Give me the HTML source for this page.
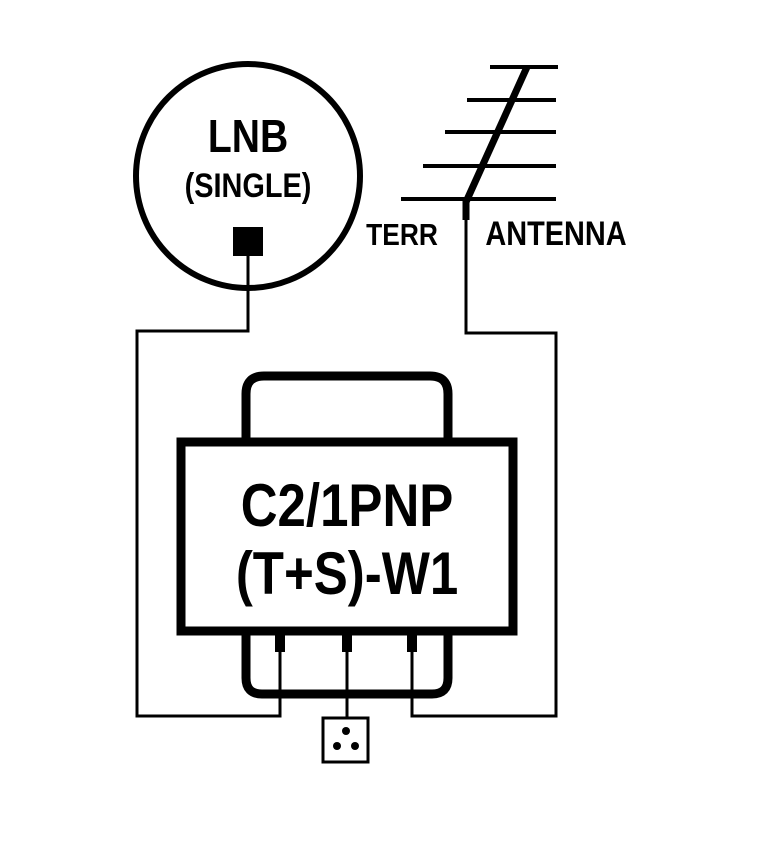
<!DOCTYPE html>
<html><head><style>html,body{margin:0;padding:0;background:#fff;}svg{display:block}</style></head>
<body>
<svg width="770" height="852" viewBox="0 0 770 852" xmlns="http://www.w3.org/2000/svg">
<g fill="none" stroke="#000" stroke-linejoin="miter">
<circle cx="248" cy="176" r="112" stroke-width="6"/>
<g stroke-width="4">
<line x1="490" y1="67" x2="558" y2="67"/>
<line x1="467" y1="100" x2="556" y2="100"/>
<line x1="445" y1="132" x2="556" y2="132"/>
<line x1="423" y1="166" x2="556" y2="166"/>
<line x1="401" y1="199" x2="556" y2="199"/>
</g>
<line x1="527" y1="67" x2="466" y2="202" stroke-width="7"/>
<line x1="466" y1="200" x2="466" y2="220" stroke-width="7"/>
<polyline points="466,220 466,333 556,333 556,716 412,716 412,640" stroke-width="3"/>
<polyline points="248,250 248,331 137,331 137,716 280,716 280,640" stroke-width="3"/>
<polyline points="347,640 347,718" stroke-width="3"/>
<path d="M246,440 V394 Q246,376 264,376 H430 Q448,376 448,394 V440" stroke-width="9"/>
<path d="M246,632 V678 Q246,694 262,694 H432 Q448,694 448,678 V632" stroke-width="9"/>
<rect x="181" y="442" width="332" height="189" stroke-width="9" fill="#fff"/>
<rect x="323" y="718" width="45" height="44" stroke-width="3" fill="#fff"/>
</g>
<rect x="233" y="227" width="30" height="29" fill="#000"/>
<rect x="275" y="632" width="10" height="20" fill="#000"/>
<rect x="342" y="632" width="10" height="20" fill="#000"/>
<rect x="407" y="632" width="10" height="20" fill="#000"/>
<circle cx="346" cy="731" r="4" fill="#000"/>
<circle cx="337" cy="746" r="4" fill="#000"/>
<circle cx="355" cy="746" r="4" fill="#000"/>
<g font-family="Liberation Sans, Arial, sans-serif" font-weight="bold" fill="#000" text-anchor="middle">
<text transform="translate(248,152) scale(0.85,1)" font-size="46">LNB</text>
<text transform="translate(248,197) scale(0.85,1)" font-size="34">(SINGLE)</text>
<text transform="translate(347,526) scale(0.85,1)" font-size="60">C2/1PNP</text>
<text transform="translate(347,594) scale(0.85,1)" font-size="60">(T+S)-W1</text>
<text transform="translate(402,245) scale(0.85,1)" font-size="31">TERR</text>
<text transform="translate(556,245) scale(0.85,1)" font-size="34">ANTENNA</text>
</g>
</svg>
</body></html>
